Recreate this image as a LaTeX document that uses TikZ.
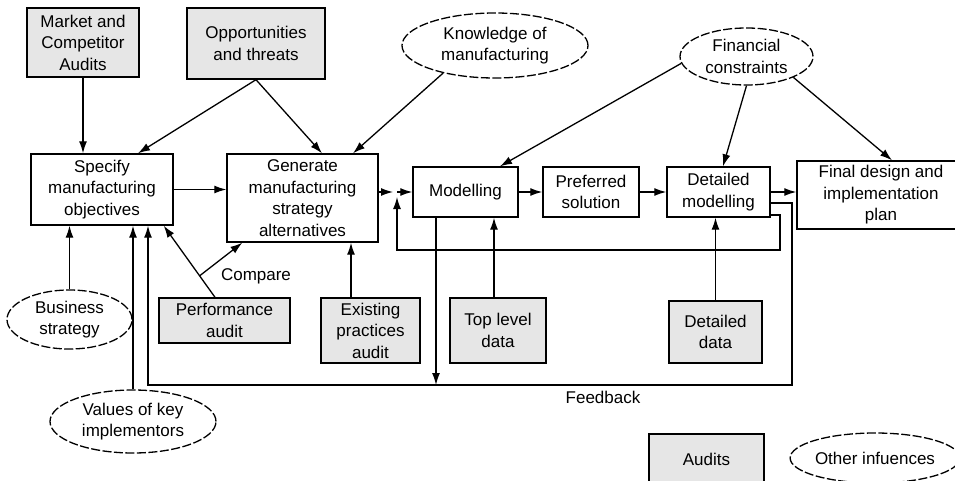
\documentclass[tikz,border=0pt]{standalone}
\usepackage{fontspec}
\setmainfont{Liberation Sans}
\usetikzlibrary{arrows.meta,calc,shapes.geometric}
\definecolor{boxgray}{RGB}{230,230,230}
\begin{document}
\begin{tikzpicture}[x=1pt,y=-1pt,
  every node/.style={font=\fontsize{17}{21.5}\selectfont, align=center, inner sep=0pt},
  box/.style={draw, rectangle, line width=1.4pt, fill=white},
  gbox/.style={box, fill=boxgray},
  oval/.style={draw, ellipse, line width=1.3pt, dash pattern=on 9pt off 2.5pt},
  arr/.style={line width=1.3pt, -{Latex[length=12pt,width=8pt]}}]
\useasboundingbox (0,0) rectangle (955,481);
\clip (0,0) rectangle (955,481);
\fill[white] (0,0) rectangle (955,481);

\node[gbox, minimum width=112pt, minimum height=69pt] (mca) at (83,42.5) {Market and\\Competitor\\Audits};
\node[gbox, minimum width=138pt, minimum height=71pt] (opp) at (256,43.5) {Opportunities\\and threats};
\node[oval, minimum width=186pt, minimum height=65pt] (know) at (495,45.5) {Knowledge of\\manufacturing};
\node[oval, minimum width=133pt, minimum height=57pt] (fin) at (746.5,56.5) {Financial\\constraints};
\node[box, minimum width=142pt, minimum height=71pt] (spec) at (102,189.5) {Specify\\manufacturing\\objectives};
\node[box, minimum width=151pt, minimum height=88pt] (gen) at (302.5,198) {Generate\\manufacturing\\strategy\\alternatives};
\node[box, minimum width=105pt, minimum height=50pt] (mod) at (465.5,192) {Modelling};
\node[box, minimum width=96pt, minimum height=50pt] (pref) at (591,192) {Preferred\\solution};
\node[box, minimum width=103pt, minimum height=50pt] (det) at (718.5,192) {Detailed\\modelling};
\node[box, minimum width=168pt, minimum height=68pt] (fdp) at (881,195) {Final design and\\implementation\\plan};
\node[oval, minimum width=125pt, minimum height=59pt] (bus) at (69.5,319.5) {Business\\strategy};
\node[oval, minimum width=166pt, minimum height=63pt] (val) at (133,421.5) {Values of key\\implementors};
\node[gbox, minimum width=131pt, minimum height=45pt] (perf) at (224.5,320.5) {Performance\\audit};
\node[gbox, minimum width=99pt, minimum height=65pt] (exist) at (370.5,330.5) {Existing\\practices\\audit};
\node[gbox, minimum width=96pt, minimum height=65pt] (top) at (498,330.5) {Top level\\data};
\node[gbox, minimum width=93pt, minimum height=62pt] (dd) at (715.5,332) {Detailed\\data};
\node[gbox, minimum width=115pt, minimum height=50pt] (aud) at (706.5,459) {Audits};
\node[oval, minimum width=168pt, minimum height=50pt] (oth) at (875,458) {Other infuences};
\node (cmpl) at (256,276) {Compare};
\node (fbl) at (603,397) {Feedback};

\coordinate (j1) at (397,192);
\coordinate (fbR) at (792,385);
\coordinate (fbL) at (148,385);
\coordinate (fbM) at (436,385);
\coordinate (ilR) at (780,250);
\coordinate (ilL) at (397,250);
\coordinate (j1b) at (397,197);
\coordinate (dA) at ([yshift=-11pt]det.east);
\coordinate (dB) at ([yshift=-23pt]det.east);
\coordinate (eN) at ([xshift=-19.5pt]exist.north);
\coordinate (tN) at ([xshift=-4pt]top.north);
\coordinate (pA) at ([xshift=-9.5pt]perf.north);
\coordinate (pB) at ([xshift=-10pt]spec.south east);
\coordinate (cmp) at ($(pA)!0.3!(pB)$);

\draw[arr] (mca.south) -- (mca.south |- spec.north);
\draw[arr] (opp.south) -- ([xshift=36pt]spec.north);
\draw[arr] (opp.south) -- ([xshift=19.5pt]gen.north);
\draw[arr] (know.208) -- ([xshift=50.5pt]gen.north);
\draw[arr] (spec.east) -- (spec.east -| gen.west);
\draw[arr] (gen.east |- j1) -- ([xshift=-4pt]j1);
\draw[arr] (j1) -- (j1 -| mod.west);
\draw[arr] (mod.east) -- (pref.west);
\draw[arr] (pref.east) -- (det.west);
\draw[arr] (det.east) -- (det.east -| fdp.west);
\draw[arr] (dA) -| (fbR) -- (fbL) -- (fbL |- spec.south);
\draw[arr] (dB) -| (ilR) -- (ilL) -- (j1b);
\draw[arr] (fbM |- mod.south) -- (fbM);
\draw[arr] (val.north) -- (val.north |- spec.south);
\draw[arr] (bus.north) -- (bus.north |- spec.south);
\draw[arr] (pA) -- (pB);
\draw[arr] (cmp) -- ([xshift=16pt]gen.south west);
\draw[arr] (eN) -- (eN |- gen.south);
\draw[arr] (tN) -- (tN |- mod.south);
\draw[arr] (dd.north) -- (dd.north |- det.south);
\draw[arr] (fin.186) -- ([xshift=34.5pt]mod.north);
\draw[arr] (fin.south) -- ([xshift=4.5pt]det.north);
\draw[arr] (fin.336) -- ([xshift=11pt]fdp.north);
\end{tikzpicture}
\end{document}
